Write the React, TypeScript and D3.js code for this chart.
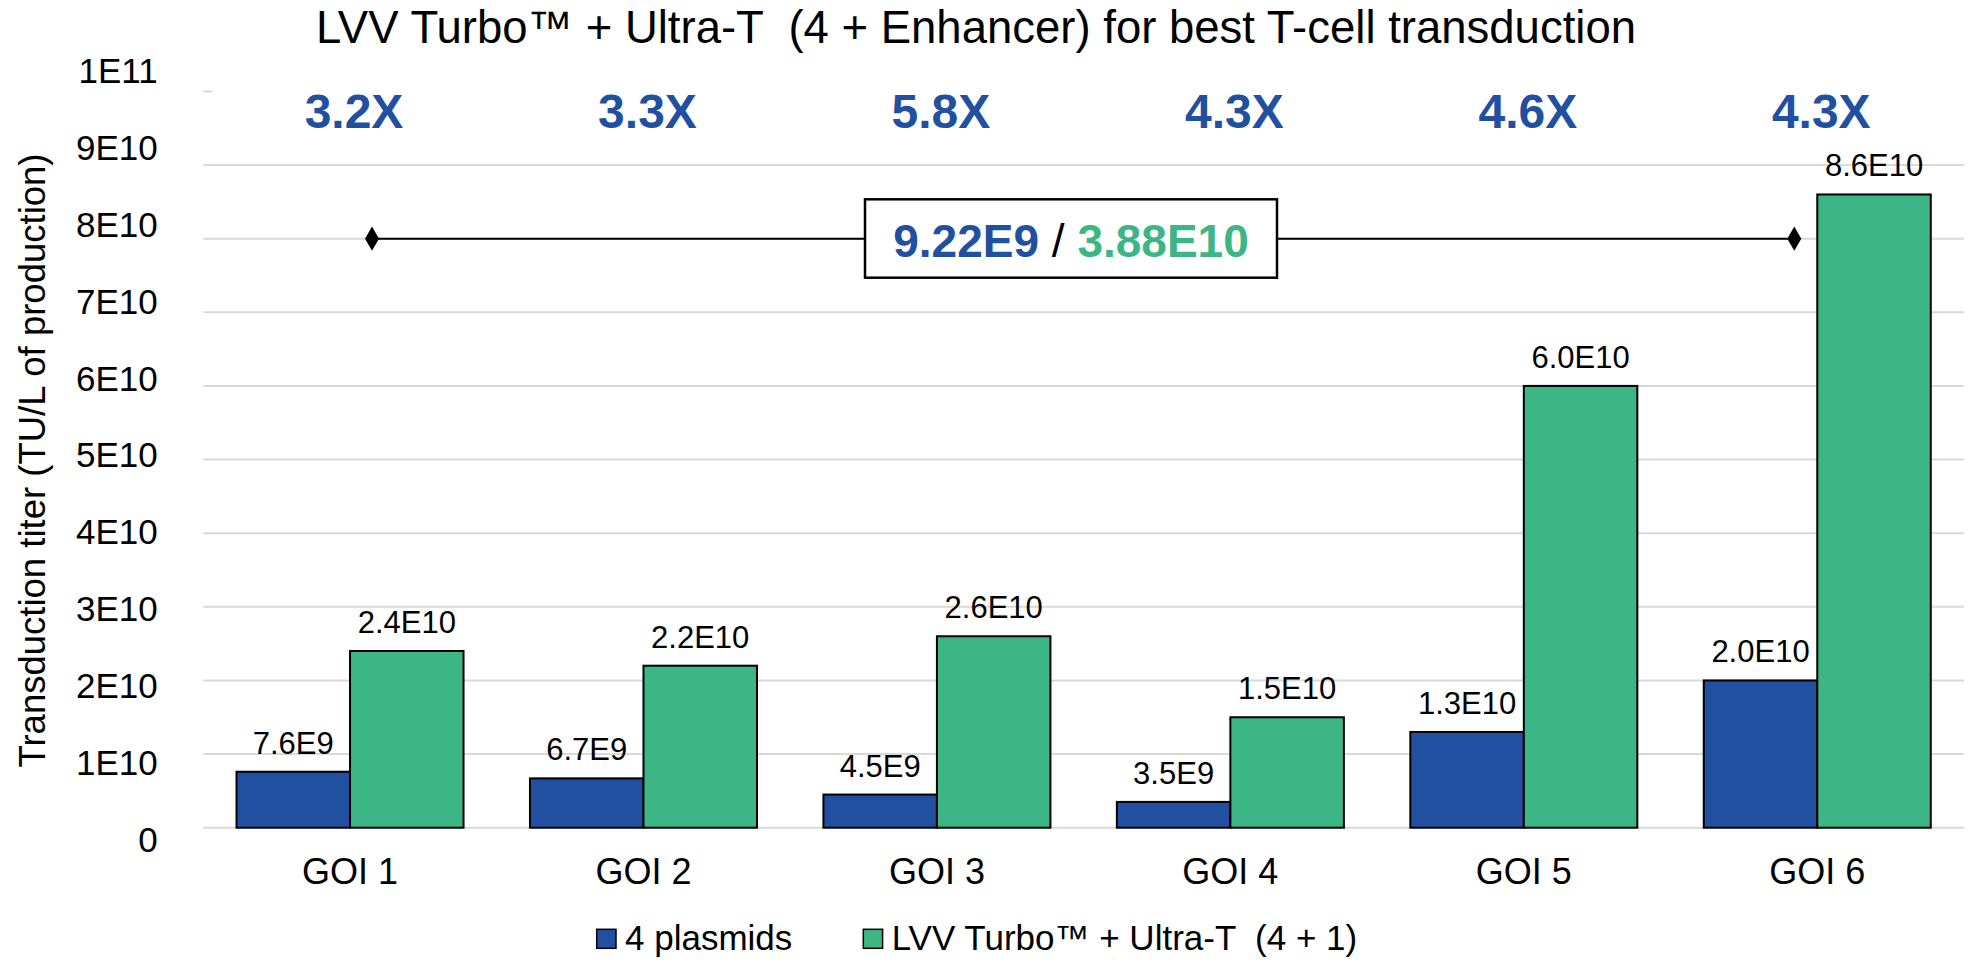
import React from 'react';
import * as d3 from 'd3';

// chart values
const categories = ['GOI 1', 'GOI 2', 'GOI 3', 'GOI 4', 'GOI 5', 'GOI 6'];
const plasmids4 = [7.6e9, 6.7e9, 4.5e9, 3.5e9, 1.3e10, 2.0e10];
const turboUltraT = [2.4e10, 2.2e10, 2.6e10, 1.5e10, 6.0e10, 8.6e10];
const foldLabels = ['3.2X', '3.3X', '5.8X', '4.3X', '4.6X', '4.3X'];
const yTicks = [0, 1e10, 2e10, 3e10, 4e10, 5e10, 6e10, 7e10, 8e10, 9e10, 1e11];
const seriesNames = ['4 plasmids', 'LVV Turbo™ + Ultra-T  (4 + 1)'];
const bracketLevel = 8e10;

const title = 'LVV Turbo™ + Ultra-T  (4 + Enhancer) for best T-cell transduction';
const yTitle = 'Transduction titer (TU/L of production)';

const BLUE = '#2150A0';
const GREEN = '#3CB685';
const FONT = "'Liberation Sans', Arial, Helvetica, sans-serif";

const width = 1971;
const height = 965;
const plot = { left: 203.3, right: 1964, top: 91.4, bottom: 827.7 };

function sci(v: number, digits: number) {
  if (v === 0) return '0';
  const e = Math.floor(Math.log10(v));
  const m = v / Math.pow(10, e);
  return `${m.toFixed(digits)}E${e}`;
}

export default function App() {
  const series = [plasmids4, turboUltraT];
  const colors = [BLUE, GREEN];

  const x0 = d3.scaleBand<string>()
    .domain(categories)
    .range([plot.left, plot.right])
    .paddingInner(0.2264)
    .paddingOuter(0.1132);
  const x1 = d3.scaleBand<number>()
    .domain([0, 1])
    .range([0, x0.bandwidth()]);
  const y = d3.scaleLinear().domain([0, 1e11]).range([plot.bottom, plot.top]);
  // tick labels in the original sit on a slightly wider spacing than the grid
  const yLab = d3.scaleLinear().domain([0, 1e11]).range([851.7, 83.1]);

  const center = (c: string) => (x0(c) as number) + x0.bandwidth() / 2;

  const meanBlue = d3.mean(plasmids4) as number;
  const meanGreen = d3.mean(turboUltraT) as number;

  const lineY = y(bracketLevel);
  const lineX1 = center(categories[0]) + 22;
  const lineX2 = center(categories[categories.length - 1]) - 23;
  const diamond = d3.symbol().type(d3.symbolDiamond).size(170)();

  const box = { x: 865, y: 199.3, w: 412, h: 78.4 };

  return (
    <svg width={width} height={height} style={{ position: 'absolute', left: 0, top: 0, background: '#fff' }}
      fontFamily={FONT}>
      <rect x={0} y={0} width={width} height={height} fill="#fff" />

      {/* grid */}
      {yTicks.map((t) => (
        <line key={t} x1={plot.left} x2={t === 1e11 ? plot.left + 9 : plot.right}
          y1={y(t)} y2={y(t)} stroke="#d9d9d9" strokeWidth={2} />
      ))}

      {/* bars */}
      {categories.map((c, i) => (
        <g key={c}>
          {series.map((s, k) => (
            <rect key={k}
              x={(x0(c) as number) + (x1(k) as number)}
              y={y(s[i])}
              width={x1.bandwidth()}
              height={y(0) - y(s[i])}
              fill={colors[k]} stroke="#000" strokeWidth={2} />
          ))}
          {series.map((s, k) => (
            <text key={'l' + k}
              x={(x0(c) as number) + (x1(k) as number) + x1.bandwidth() / 2}
              y={y(s[i]) - 18}
              textAnchor="middle" fontSize={31} fill="#000">{sci(s[i], 1)}</text>
          ))}
          <text x={center(c)} y={884} textAnchor="middle" fontSize={36} fill="#000">{c}</text>
          <text x={center(c) + 4} y={127.7} textAnchor="middle" fontSize={48}
            fontWeight="bold" fill={BLUE}>{foldLabels[i]}</text>
        </g>
      ))}

      {/* y tick labels */}
      {yTicks.map((t) => (
        <text key={'yt' + t} x={157.7} y={yLab(t)} textAnchor="end" fontSize={35} fill="#000">
          {sci(t, 0)}
        </text>
      ))}

      {/* y title */}
      <text transform={`translate(45,460.5) rotate(-90)`} textAnchor="middle" fontSize={36.5} fill="#000">
        {yTitle}
      </text>

      {/* chart title */}
      <text x={976} y={42.7} textAnchor="middle" fontSize={45.5} fill="#000"
        style={{ whiteSpace: 'pre' }}>{title}</text>

      {/* bracket line with mean box */}
      <line x1={lineX1} x2={lineX2} y1={lineY} y2={lineY} stroke="#000" strokeWidth={2} />
      <path d={diamond as string} transform={`translate(${lineX1},${lineY})`} fill="#000" />
      <path d={diamond as string} transform={`translate(${lineX2},${lineY})`} fill="#000" />
      <rect x={box.x} y={box.y} width={box.w} height={box.h} fill="#fff" stroke="#000" strokeWidth={2.5} />
      <text x={box.x + box.w / 2} y={256.7} textAnchor="middle" fontSize={46} style={{ whiteSpace: 'pre' }}>
        <tspan fontWeight="bold" fill={BLUE}>{sci(meanBlue, 2)}</tspan>
        <tspan fill="#000">{' / '}</tspan>
        <tspan fontWeight="bold" fill={GREEN}>{sci(meanGreen, 2)}</tspan>
      </text>

      {/* legend */}
      {[{ sx: 596.7, tx: 625 }, { sx: 863.3, tx: 891.7 }].map((p, k) => (
        <g key={'lg' + k}>
          <rect x={p.sx} y={929.3} width={19.3} height={19} fill={colors[k]} stroke="#000" strokeWidth={1.5} />
          <text x={p.tx} y={950} fontSize={35} fill="#000" style={{ whiteSpace: 'pre' }}>{seriesNames[k]}</text>
        </g>
      ))}
    </svg>
  );
}
